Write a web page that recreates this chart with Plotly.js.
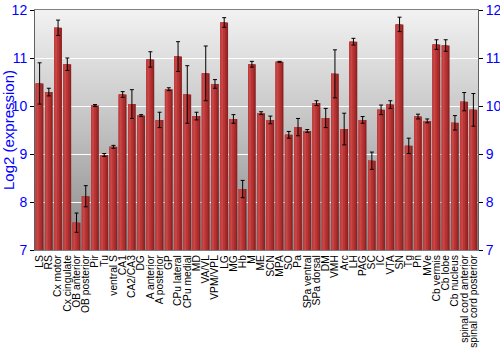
<!DOCTYPE html>
<html>
<head>
<meta charset="utf-8">
<script src="https://cdn.plot.ly/plotly-3.0.1.min.js"></script>
<style>
  html, body { margin: 0; padding: 0; background: #ffffff; }
  #wrap { position: relative; width: 500px; height: 350px; }
  #bg { position: absolute; left: 35px; top: 10px; width: 443px; height: 240px;
        background: linear-gradient(to bottom, #f2f2f2 0%, #c6c6c6 45%, #888888 100%); }
  #chart { position: absolute; left: 0; top: 0; width: 500px; height: 350px; }
</style>
</head>
<body>
<div id="wrap"><div id="bg"></div><div id="chart"></div></div>
<script>
const regions = ["LS","RS","Cx motor","Cx cingulate","OB anterior","OB posterior","Pir","Tu","ventral S","CA1","CA2/CA3","DG","A anterior","A posterior","GP","CPu lateral","CPu medial","MD","VA/VL","VPM/VPL","LG","MG","Hb","M","ME","SCN","MPA","SO","Pa","SPa ventral","SPa dorsal","DM","VMH","Arc","LH","PAG","SC","IC","VTA","SN","Tg","Pn","MVe","Cb vermis","Cb lobe","Cb nucleus","spinal cord anterior","spinal cord posterior"];
const expression = [10.47,10.29,11.63,10.87,7.57,8.12,10.01,8.98,9.15,10.24,10.04,9.80,10.97,9.71,10.35,11.03,10.24,9.79,10.68,10.46,11.74,9.73,8.27,10.87,9.85,9.71,10.92,9.40,9.56,9.48,10.06,9.75,10.67,9.52,11.34,9.71,8.86,9.92,10.03,11.70,9.17,9.78,9.69,11.28,11.26,9.65,10.09,9.92];
const stdError = [0.43,0.08,0.16,0.13,0.20,0.22,0.02,0.03,0.03,0.06,0.30,0.02,0.16,0.16,0.03,0.31,0.60,0.08,0.57,0.09,0.10,0.09,0.18,0.06,0.03,0.08,0.01,0.07,0.18,0.03,0.05,0.20,0.50,0.33,0.07,0.07,0.18,0.10,0.08,0.15,0.16,0.05,0.04,0.10,0.12,0.15,0.19,0.34];
const yTicks = [7,8,9,10,11,12];

const base = 7;
const heights = expression.map(v => v - base);
const barW = 0.84, barOff = -0.42;
// vertical stripes giving the shaded cylinder look
const stripes = [
  {from: 0.00, to: 1.00, color: "#8c2222"},
  {from: 0.00, to: 0.82, color: "#a62b2b"},
  {from: 0.00, to: 0.62, color: "#b93434"},
  {from: 0.00, to: 0.36, color: "#c84646"},
  {from: 0.00, to: 0.12, color: "#bd3c3c"}
];
const traces = stripes.map(s => ({
  type: "bar", x: regions, y: heights, base: base,
  width: barW * (s.to - s.from), offset: barOff + barW * s.from,
  marker: {color: s.color, line: {width: 0}},
  hoverinfo: "skip", showlegend: false
}));
// error bars drawn on top of the stripes
traces.push({
  type: "bar", x: regions, y: heights, base: base, width: barW, offset: barOff,
  marker: {color: "rgba(0,0,0,0)", line: {width: 0}}, showlegend: false,
  error_y: {type: "data", array: stdError, visible: true, color: "#000000", thickness: 1, width: 2}
});
// same data on the right-hand axis so it is drawn
traces.push({
  type: "bar", x: regions, y: heights, base: base, width: barW, offset: barOff, yaxis: "y2",
  marker: {color: "rgba(0,0,0,0)", line: {width: 0}}, showlegend: false, hoverinfo: "skip"
});

const tickFont = {family: "Liberation Sans, Arial, sans-serif", size: 14, color: "#0000ff"};
const layout = {
  width: 500, height: 350,
  margin: {l: 35, r: 22, t: 10, b: 100, pad: 0},
  paper_bgcolor: "rgba(0,0,0,0)", plot_bgcolor: "rgba(0,0,0,0)",
  barmode: "overlay",
  xaxis: {
    type: "category", tickmode: "linear", tick0: 0, dtick: 1, tickangle: -90, ticks: "",
    showline: true, linecolor: "#808080", mirror: true, showgrid: false,
    tickfont: {family: "Liberation Sans, Arial, sans-serif", size: 10.3, color: "#000000"},
    range: [-0.5, regions.length - 0.5]
  },
  yaxis: {
    range: [7, 12], tickvals: yTicks, ticks: "outside", ticklen: 4, tickcolor: "#000000",
    showline: true, linecolor: "#606060", showgrid: true, gridcolor: "#ffffff", gridwidth: 1,
    zeroline: false, tickfont: tickFont,
    title: {text: "Log2 (expression)", font: {family: "Liberation Sans, Arial, sans-serif", size: 15, color: "#0000ff"}, standoff: 6}
  },
  yaxis2: {
    range: [7, 12], tickvals: yTicks, overlaying: "y", side: "right", anchor: "x",
    ticks: "outside", ticklen: 4, tickcolor: "#000000", showline: true, linecolor: "#606060",
    showgrid: false, zeroline: false, tickfont: tickFont
  }
};
Plotly.newPlot("chart", traces, layout, {displayModeBar: false, staticPlot: true});
</script>
</body>
</html>
